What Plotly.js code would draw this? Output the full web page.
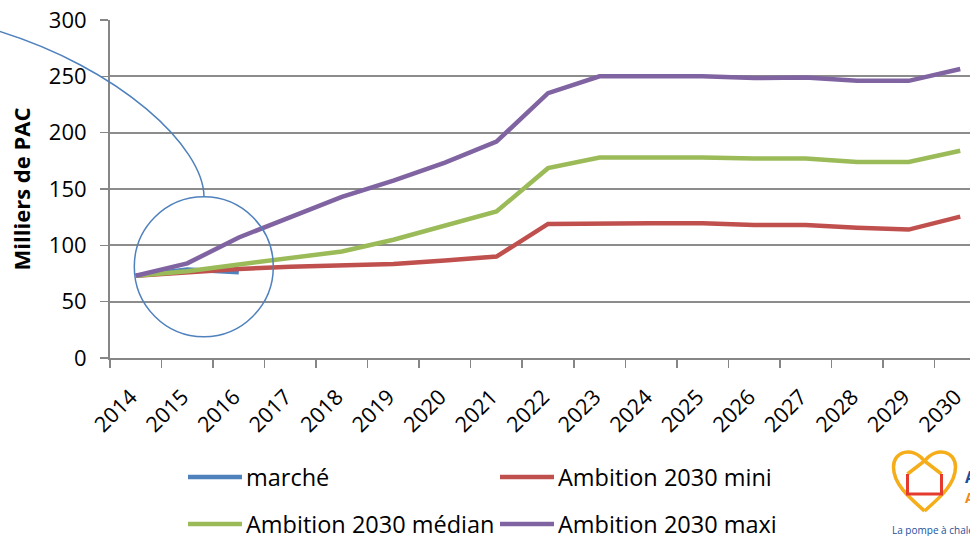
<!DOCTYPE html>
<html>
<head>
<meta charset="utf-8">
<script src="https://cdn.plot.ly/plotly-3.0.1.min.js"></script>
<style>
html,body{margin:0;padding:0;overflow:hidden;background:#fff;width:970px;height:536px;}
#chart{width:1000px;height:536px;}
</style>
</head>
<body>
<div id="chart"></div>
<script>
// ---- data ----
const years = ["2014","2015","2016","2017","2018","2019","2020","2021","2022","2023","2024","2025","2026","2027","2028","2029","2030"];
const seriesNames = ["marché","Ambition 2030 mini","Ambition 2030 médian","Ambition 2030 maxi"];
const marche = [73, 78.5, 76];
const mini   = [73, 76, 79, 81, 82, 83.5, 86.5, 90, 119, 119.5, 119.5, 119.5, 118, 118, 115.5, 114, 125.5];
const median = [73, 77, 83, 89, 94.5, 105, 117, 130, 168.5, 178, 178, 178, 177, 177, 174, 174, 184];
const maxi   = [73, 84, 107, 125.5, 143, 157.5, 173.5, 192, 235, 250, 250, 250, 248.5, 249, 246, 246, 256.5];
const yTicks = [0, 50, 100, 150, 200, 250, 300];
const seriesColors = ["#4F81BD","#C0504D","#9BBB59","#8064A2"];
const seriesValues = [marche, mini, median, maxi];

// ---- geometry helpers (pixel -> paper) ----
const L = 110, T = 20, W = 1000, H = 536, PW = 876, PH = 338;
const px = x => (x - L) / PW;
const py = y => (T + PH - y) / PH;
const P = (x, y) => px(x).toFixed(5) + "," + py(y).toFixed(5);

const FONT = "'Open Sans', 'Noto Sans', sans-serif";

const traces = seriesValues.map((vals, i) => ({
  type: "scatter",
  mode: "lines",
  x: years.slice(0, vals.length),
  y: vals,
  name: seriesNames[i],
  line: {color: seriesColors[i], width: 4.5},
  showlegend: false,
  hoverinfo: "skip"
}));

const shapes = [];
const annotations = [];

// callout circle + connector curve
shapes.push({type: "circle", xref: "paper", yref: "paper",
  x0: px(134.3), x1: px(273.3), y0: py(336.7), y1: py(196.7),
  line: {color: "#4F81BD", width: 1.5}, layer: "above"});
shapes.push({type: "path", xref: "paper", yref: "paper",
  path: "M" + P(-5, 30) + " C" + P(120, 67.7) + " " + P(204, 147) + " " + P(204, 197),
  line: {color: "#4F81BD", width: 1.5}, layer: "above"});

// manual legend (two columns)
const legPos = [[188, 477], [500, 477], [188, 524], [500, 524]];
seriesNames.forEach((name, i) => {
  const [lx, ly] = legPos[i];
  shapes.push({type: "line", xref: "paper", yref: "paper",
    x0: px(lx), x1: px(lx + 54), y0: py(ly), y1: py(ly),
    line: {color: seriesColors[i], width: 4.5}});
  annotations.push({xref: "paper", yref: "paper", x: px(lx + 56), y: py(ly),
    xanchor: "left", yanchor: "middle", showarrow: false, text: name,
    font: {family: FONT, size: 23.5, color: "#000"}});
});

// logo (approximation)
const c = 924.5;
const lobeL = "M" + P(c, 511) + " C" + P(c-16, 497) + " " + P(c-31, 484) + " " + P(c-31, 467) +
  " C" + P(c-31, 451) + " " + P(c-12, 446) + " " + P(c, 461) + " L" + P(c+17, 474);
const lobeR = "M" + P(c, 511) + " C" + P(c+16, 497) + " " + P(c+31, 484) + " " + P(c+31, 467) +
  " C" + P(c+31, 451) + " " + P(c+12, 446) + " " + P(c, 461) + " L" + P(c-17, 474);
const house = "M" + P(c-17, 474) + " L" + P(c-17, 494) + " L" + P(c+17, 494) + " L" + P(c+17, 474);
shapes.push({type: "path", xref: "paper", yref: "paper", path: lobeL, line: {color: "#F5AE1A", width: 3.5}});
shapes.push({type: "path", xref: "paper", yref: "paper", path: lobeR, line: {color: "#F5AE1A", width: 3.5}});
shapes.push({type: "path", xref: "paper", yref: "paper", path: house, line: {color: "#E53A2E", width: 3}});
annotations.push({xref: "paper", yref: "paper", x: px(890), y: py(530), xanchor: "left", yanchor: "middle",
  showarrow: false, text: "La pompe à chaleur", font: {family: FONT, size: 10, color: "#1B4F9C"}});
annotations.push({xref: "paper", yref: "paper", x: px(963), y: py(477), xanchor: "left", yanchor: "middle",
  showarrow: false, text: "<b>A</b>", font: {family: FONT, size: 16, color: "#1B4F9C"}});
annotations.push({xref: "paper", yref: "paper", x: px(963), y: py(497), xanchor: "left", yanchor: "middle",
  showarrow: false, text: "<b>A</b>", font: {family: FONT, size: 14, color: "#F08A1C"}});

const layout = {
  width: W, height: H,
  margin: {l: L, r: W - L - PW, t: T, b: H - T - PH, pad: 0},
  paper_bgcolor: "#fff", plot_bgcolor: "#fff",
  font: {family: FONT, size: 22, color: "#000"},
  showlegend: false,
  xaxis: {
    type: "category",
    categoryorder: "array", categoryarray: years,
    range: [-0.5, years.length - 0.5],
    tickmode: "array", tickvals: years, ticktext: years,
    tickson: "boundaries",
    ticks: "outside", ticklen: 8, tickwidth: 1.5, tickcolor: "#868686",
    tickangle: -45,
    ticklabelstandoff: 16,
    ticklabelshift: -5,
    tickfont: {family: FONT, size: 21.5, color: "#000"},
    showgrid: false, zeroline: false,
    showline: true, linecolor: "#868686", linewidth: 2,
    automargin: false
  },
  yaxis: {
    range: [0, 300],
    tickmode: "array", tickvals: yTicks, ticktext: yTicks.map(String),
    ticks: "outside", ticklen: 8, tickwidth: 1.5, tickcolor: "#868686",
    ticklabelstandoff: 9,
    tickfont: {family: FONT, size: 22, color: "#000"},
    showgrid: true, gridcolor: "#8C8C8C", gridwidth: 1.8,
    zeroline: false,
    showline: true, linecolor: "#868686", linewidth: 2,
    automargin: false,
    title: {text: "<b>Milliers de PAC</b>", font: {family: FONT, size: 22, color: "#000"}, standoff: 12}
  },
  shapes: shapes,
  annotations: annotations
};

Plotly.newPlot("chart", traces, layout, {displayModeBar: false, staticPlot: true});
</script>
</body>
</html>
